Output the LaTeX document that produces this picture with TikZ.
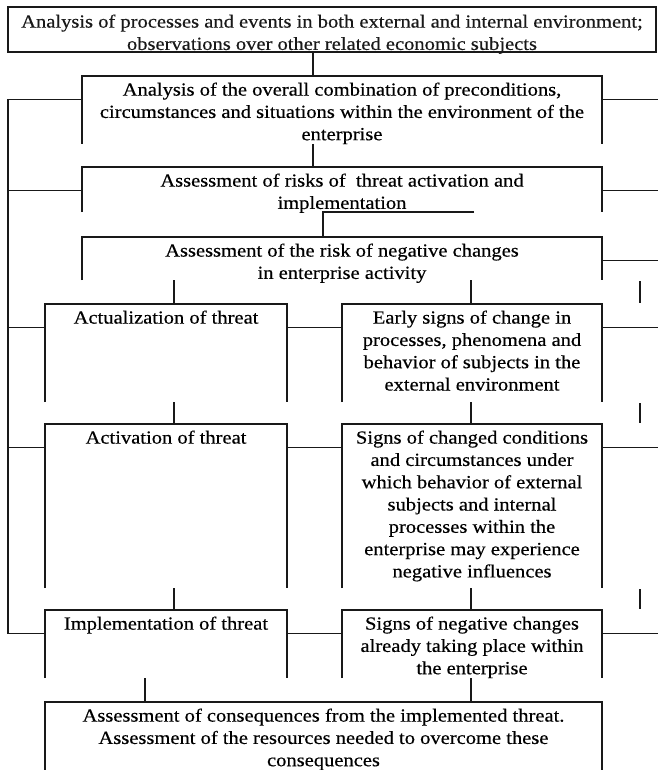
\documentclass[tikz,border=0pt]{standalone}
\usepackage{fontspec}
\setmainfont{Liberation Serif}[FakeStretch=1.11, FakeBold=0.4]
\usetikzlibrary{calc}

% Text block of a panel: fixed width and height, lines set from the top
\newcommand\panelbody[4][4pt]{%
  \parbox[c][#3][t]{#2}{\centering\vspace*{#1}\strut#4\par}}

\begin{document}
\begin{tikzpicture}[x=1pt,y=-1pt,
  panel/.style={inner sep=0pt, outer sep=0pt, anchor=north west,
                font=\fontsize{18.5}{22.3}\selectfont},
  link/.style={line width=1.4pt, black!90},
  rim/.style={line width=1.4pt, black!90}]

\useasboundingbox (0,0) rectangle (658,770);

% ---------- panels ----------
\node[panel, draw, rim] (b1) at (8,7)
  {\panelbody[5pt]{648pt}{45pt}{Analysis of processes and events in both external and internal environment;\\
   observations over other related economic subjects}};

\node[panel] (b2) at (82,76)
  {\panelbody{520pt}{68pt}{Analysis of the overall combination of preconditions,\\
   circumstances and situations within the environment of the\\ enterprise}};

\node[panel] (b3) at (82,167)
  {\panelbody{520pt}{45pt}{Assessment of risks of\ \ threat activation and\\ implementation}};

\node[panel] (b4) at (82,237)
  {\panelbody{520pt}{43pt}{Assessment of the risk of negative changes\\ in enterprise activity}};

\node[panel] (act) at (45,304)
  {\panelbody{242pt}{98pt}{Actualization of threat}};

\node[panel] (early) at (342,304)
  {\panelbody{260pt}{98pt}{Early signs of change in\\ processes, phenomena and\\
   behavior of subjects in the\\ external environment}};

\node[panel] (actv) at (45,424)
  {\panelbody{242pt}{164pt}{Activation of threat}};

\node[panel] (chg) at (342,424)
  {\panelbody{260pt}{164pt}{Signs of changed conditions\\ and circumstances under\\
   which behavior of external\\ subjects and internal\\ processes within the\\
   enterprise may experience\\ negative influences}};

\node[panel] (impl) at (45,610)
  {\panelbody{242pt}{68pt}{Implementation of threat}};

\node[panel] (neg) at (342,610)
  {\panelbody{260pt}{68pt}{Signs of negative changes\\ already taking place within\\ the enterprise}};

\node[panel] (cons) at (45,702)
  {\panelbody{557pt}{68pt}{Assessment of consequences from the implemented threat.\\
   Assessment of the resources needed to overcome these\\ consequences}};

% open-bottom outlines
\foreach \p in {b2,b3,b4,act,early,actv,chg,impl,neg,cons}
  \draw[rim] (\p.south west) -- (\p.north west) -- (\p.north east) -- (\p.south east);

% ---------- reference columns ----------
\coordinate (colM) at (313,0);
\coordinate (colN) at (323,0);
\coordinate (stub) at (474,0);
\coordinate (colA) at (174,0);
\coordinate (colB) at (471,0);
\coordinate (colC) at (145,0);
\coordinate (busL) at (8,0);
\coordinate (busR) at (658,0);
\coordinate (tick) at (640,0);

% tap heights on the panel sides
\foreach \p in {b2,b3,b4,act,early,actv,chg,impl,neg}
  \coordinate (h\p) at ([yshift=-23.5pt]\p.north);

% ---------- vertical chain ----------
\draw[link] (b1.south -| colM) -- (b2.north -| colM);
\draw[link] (b2.south -| colM) -- (b3.north -| colM);
\draw[link] (b3.south -| stub) -| (b4.north -| colN);
\draw[link] (b4.south -| colA) -- (act.north -| colA);
\draw[link] (b4.south -| colB) -- (early.north -| colB);
\draw[link] (act.south -| colA) -- (actv.north -| colA);
\draw[link] (early.south -| colB) -- (chg.north -| colB);
\draw[link] (actv.south -| colA) -- (impl.north -| colA);
\draw[link] (chg.south -| colB) -- (neg.north -| colB);
\draw[link] (impl.south -| colC) -- (cons.north -| colC);
\draw[link] (neg.south -| colB) -- (cons.north -| colB);

% ---------- left bus ----------
\draw[link] (hb2 -| b2.west) -- (hb2 -| busL) -- (himpl -| busL) -- (himpl -| impl.west);
\draw[link] (hb3 -| busL) -- (hb3 -| b3.west);
\draw[link] (hact -| busL) -- (hact -| act.west);
\draw[link] (hactv -| busL) -- (hactv -| actv.west);

% ---------- right taps ----------
\foreach \p in {b2,b3,b4,early,chg,neg}
  \draw[link] (h\p -| \p.east) -- (h\p -| busR);

% ---------- cross links between columns ----------
\draw[link] (hact -| act.east) -- (hact -| early.west);
\draw[link] (hactv -| actv.east) -- (hactv -| chg.west);
\draw[link] (himpl -| impl.east) -- (himpl -| neg.west);

% ---------- short right-hand marks ----------
\draw[link, shorten <=1pt, shorten >=1pt] (b4.south -| tick) -- (early.north -| tick);
\draw[link, shorten <=1pt, shorten >=1pt] (early.south -| tick) -- (chg.north -| tick);
\draw[link, shorten <=1pt, shorten >=1pt] (chg.south -| tick) -- (neg.north -| tick);

\end{tikzpicture}
\end{document}
